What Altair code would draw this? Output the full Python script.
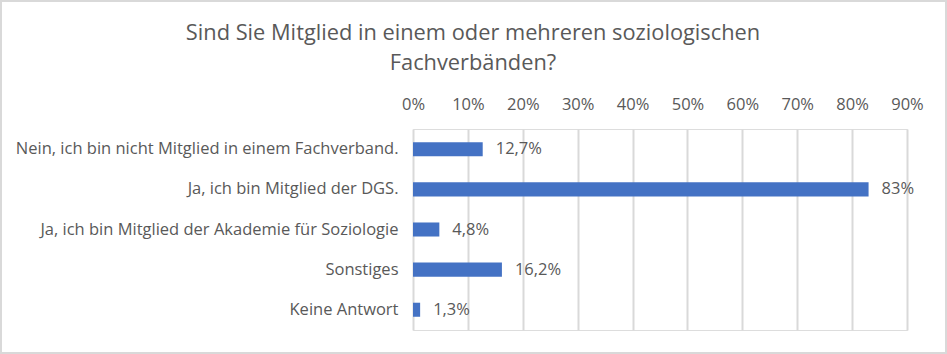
import altair as alt
import pandas as pd

categories = [
    "Nein, ich bin nicht Mitglied in einem Fachverband.",
    "Ja, ich bin Mitglied der DGS.",
    "Ja, ich bin Mitglied der Akademie für Soziologie",
    "Sonstiges",
    "Keine Antwort",
]
values = [0.127, 0.83, 0.048, 0.162, 0.013]
labels = ["12,7%", "83%", "4,8%", "16,2%", "1,3%"]
x_ticks = [0, 0.1, 0.2, 0.3, 0.4, 0.5, 0.6, 0.7, 0.8, 0.9]

df = pd.DataFrame({"cat": categories, "val": values, "lab": labels})

FONT = "Open Sans"
GRAY = "#595959"
GRID = "#d9d9d9"
FS = 16.5

W, H = 494, 201
PL, PT = 413, 129

x_enc = alt.X(
    "val:Q",
    scale=alt.Scale(domain=[0, 0.9], nice=False),
    axis=alt.Axis(
        orient="top", format=".0%", values=x_ticks, title=None,
        domain=False, ticks=False, grid=True, gridColor=GRID, gridWidth=2,
        labelFont=FONT, labelFontSize=FS, labelColor=GRAY, labelPadding=17,
        labelFlush=False, labelOverlap=False,
    ),
)
y_enc = alt.Y(
    "cat:N", sort=categories, title=None,
    scale=alt.Scale(paddingInner=0.65, paddingOuter=0.33),
    axis=alt.Axis(domain=False, ticks=False, labelFont=FONT, labelFontSize=FS,
                  labelColor=GRAY, labelPadding=15, labelLimit=420),
)

base = alt.Chart(df)
bars = base.mark_bar(color="#4472c4").encode(x=x_enc, y=y_enc)
text = base.mark_text(align="left", dx=13, font=FONT, fontSize=FS, color=GRAY).encode(
    x="val:Q", y=alt.Y("cat:N", sort=categories), text="lab:N"
)
frame = base.mark_rect(fill=None, stroke=GRID, strokeWidth=2, clip=False).encode(
    x=alt.value(-PL + 1), x2=alt.value(947 - PL - 1),
    y=alt.value(-PT + 1), y2=alt.value(354 - PT - 1),
)

chart = alt.layer(bars, text, frame).properties(
    width=W, height=H,
    title=alt.TitleParams(
        text=["Sind Sie Mitglied in einem oder mehreren soziologischen", "Fachverbänden?"],
        font=FONT, fontSize=21.8, fontWeight="normal", color=GRAY, anchor="middle",
        dx=473 - (PL + W / 2), offset=-75, lineHeight=30,
    ),
    autosize=alt.AutoSizeParams(type="none"),
    padding={"left": PL, "top": PT, "right": 947 - PL - W, "bottom": 354 - PT - H},
).configure_view(stroke=None).configure(background="white")

chart.save("out.html", embed_options={"renderer": "svg", "actions": False})
